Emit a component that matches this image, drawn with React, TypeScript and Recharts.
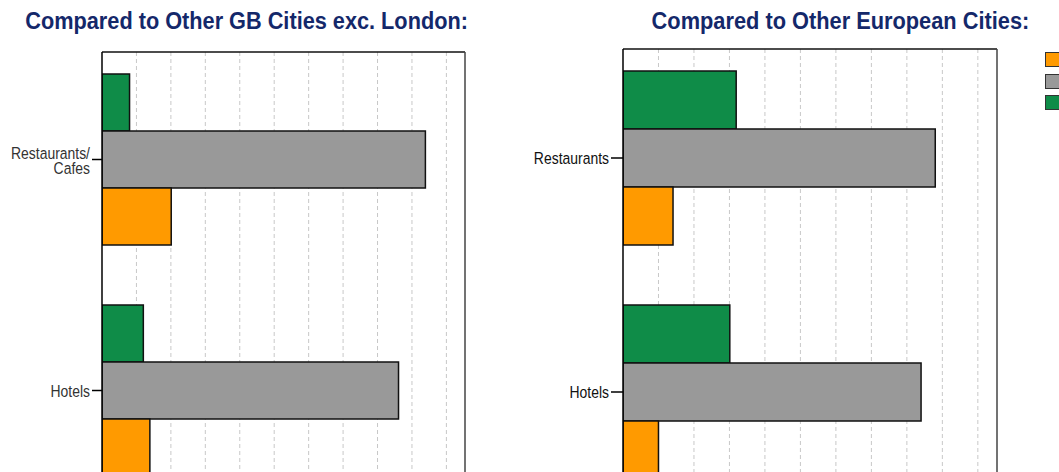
import React from 'react';
import { BarChart, Bar, XAxis, YAxis, CartesianGrid } from 'recharts';

// categories (left panel label breaks onto two lines)
const gbCategories = ['Restaurants/\nCafes', 'Hotels'];
const euCategories = ['Restaurants', 'Hotels'];

// values, % scale
const gbGreen = [8.0, 12.0];
const gbGray = [93.9, 86.1];
const gbOrange = [20.1, 13.9];

const euGreen = [31.9, 30.1];
const euGray = [88.0, 84.0];
const euOrange = [14.1, 10.0];

const xTicks = [10, 20, 30, 40, 50, 60, 70, 80, 90, 100];
const xMax = 105.4;

// legend order as drawn (top to bottom); its labels sit past the page edge
const seriesKeys = ['orange', 'gray', 'green'];
const seriesNames = ['Series 1', 'Series 2', 'Series 3'];
const seriesColors = ['#FF9A00', '#999999', '#0F8C48'];

const FONT = "'Liberation Sans', Arial, sans-serif";

const buildRows = (cats: string[], green: number[], gray: number[], orange: number[]) =>
  cats.map((name, i) => ({ name, green: green[i], gray: gray[i], orange: orange[i] }));

const gbRows = buildRows(gbCategories, gbGreen, gbGray, gbOrange);
const euRows = buildRows(euCategories, euGreen, euGray, euOrange);

// narrow-looking labels: regular sans squeezed horizontally
function CategoryTick(props: any) {
  const { x, y, payload, fill } = props;
  const lines = String(payload.value).split('\n');
  return (
    <g transform={`translate(${x},${y})`}>
      <text x={0} y={0} transform="scale(0.845,1)" textAnchor="end" fontSize={16.5} fill={fill} fontFamily={FONT}>
        {lines.map((line, i) => (
          <tspan key={i} x={0} dy={i === 0 ? (lines.length > 1 ? -1 : 6) : 15.5}>
            {line}
          </tspan>
        ))}
      </text>
    </g>
  );
}

// grid at the x ticks, through the axis scale
const gridX = (args: any) => {
  const { xAxis, offset } = args;
  if (xAxis && typeof xAxis.scale === 'function') return xTicks.map((t) => xAxis.scale(t));
  return xTicks.map((t) => offset.left + (t / xMax) * offset.width);
};

function Panel(props: {
  rows: any[];
  left: number;
  width: number;
  height: number;
  top: number;
  axisWidth: number;
  tickSize: number;
  labelColor: string;
}) {
  const { rows, left, width, height, top, axisWidth, tickSize, labelColor } = props;
  return (
    <div style={{ position: 'absolute', left, top: 0 }}>
      <BarChart
        layout="vertical"
        width={width}
        height={height}
        data={rows}
        margin={{ top: top - 1, right: 9, bottom: 0, left: 0 }}
        barCategoryGap={30}
        barGap={0}
        style={{ overflow: 'visible' }}
      >
        <CartesianGrid
          horizontal={false}
          stroke="#c8c8c8"
          strokeDasharray="4 3"
          verticalCoordinatesGenerator={gridX}
        />
        <XAxis
          type="number"
          orientation="top"
          domain={[0, xMax]}
          ticks={xTicks}
          interval={0}
          tick={false}
          tickLine={false}
          height={1}
          axisLine={{ stroke: '#111', strokeWidth: 1.5 }}
          allowDataOverflow
        />
        <YAxis
          type="category"
          dataKey="name"
          width={axisWidth}
          padding={{ top: -8, bottom: 0 }}
          tickSize={tickSize}
          tickMargin={2}
          axisLine={{ stroke: '#000', strokeWidth: 1.5 }}
          tickLine={{ stroke: '#000', strokeWidth: 1.5 }}
          tick={<CategoryTick fill={labelColor} />}
          interval={0}
        />
        <YAxis
          yAxisId="frame"
          type="category"
          dataKey="name"
          orientation="right"
          width={1}
          tick={false}
          tickLine={false}
          axisLine={{ stroke: '#444', strokeWidth: 1.5 }}
        />
        <Bar dataKey="green" name={seriesNames[2]} fill={seriesColors[2]} stroke="#111" strokeWidth={1.5} isAnimationActive={false} />
        <Bar dataKey="gray" name={seriesNames[1]} fill={seriesColors[1]} stroke="#111" strokeWidth={1.5} isAnimationActive={false} />
        <Bar dataKey="orange" name={seriesNames[0]} fill={seriesColors[0]} stroke="#111" strokeWidth={1.5} isAnimationActive={false} />
      </BarChart>
    </div>
  );
}

export default function App() {
  return (
    <div
      style={{
        position: 'absolute',
        left: 0,
        top: 0,
        width: 1059,
        height: 472,
        overflow: 'hidden',
        background: '#fff',
      }}
    >
      <svg width={1059} height={40} style={{ position: 'absolute', left: 0, top: 0 }}>
        <text x={25.3} y={28.5} fontSize={23.5} fontWeight="bold" fill="#14286A" fontFamily={FONT}
          textLength={442.6} lengthAdjust="spacingAndGlyphs">
          Compared to Other GB Cities exc. London:
        </text>
        <text x={651.6} y={28.5} fontSize={23.5} fontWeight="bold" fill="#14286A" fontFamily={FONT}
          textLength={377.7} lengthAdjust="spacingAndGlyphs">
          Compared to Other European Cities:
        </text>
      </svg>

      <Panel rows={gbRows} left={0} width={475} height={506} top={52} axisWidth={102} tickSize={10} labelColor="#333" />
      <Panel rows={euRows} left={530} width={477} height={509} top={49} axisWidth={93} tickSize={12} labelColor="#111" />

      {/* legend swatches; the names run off the right edge */}
      {seriesKeys.map((k, i) => (
        <div
          key={k}
          title={seriesNames[i]}
          style={{
            position: 'absolute',
            left: 1045,
            top: 52 + i * 21.6,
            width: 22,
            height: 15,
            boxSizing: 'border-box',
            background: seriesColors[i],
            border: '1.5px solid #333',
          }}
        />
      ))}
    </div>
  );
}
